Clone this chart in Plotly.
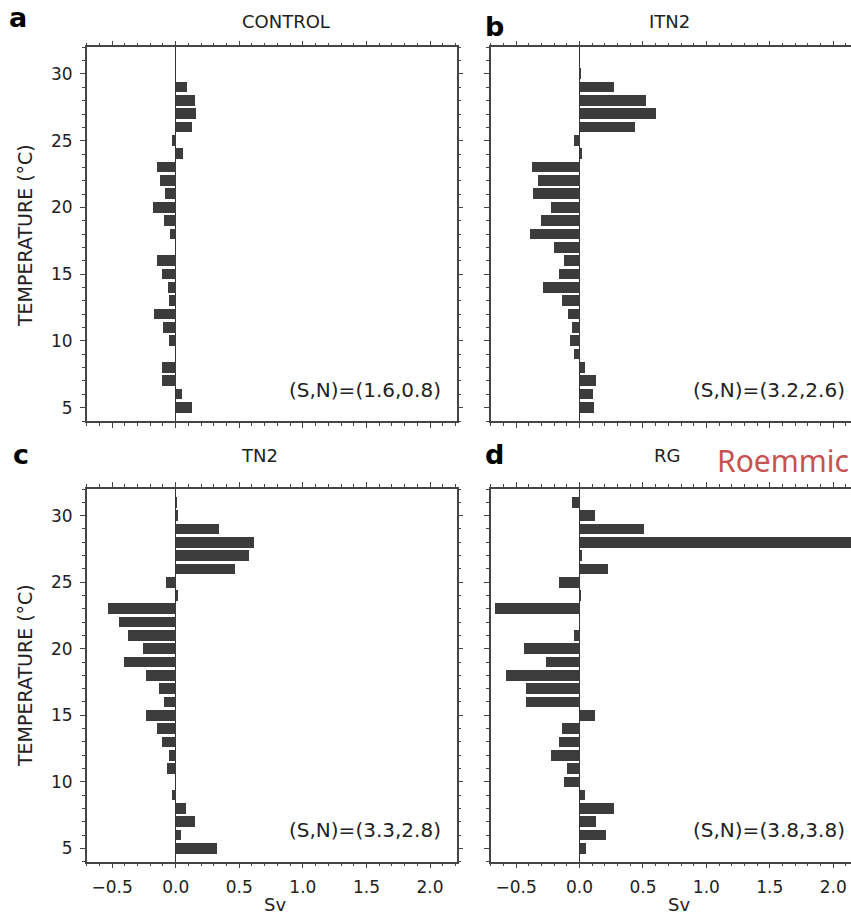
import plotly.graph_objects as go
from plotly.subplots import make_subplots

W, H = 851, 915

temps = list(range(5, 32))

# transport (Sv) per 1 degC temperature class, 5..31 degC
control = [0.126, 0.047, -0.108, -0.108, 0.0, -0.052, -0.100, -0.171, -0.052, -0.060,
           -0.108, -0.147, 0.0, -0.045, -0.092, -0.178, -0.084, -0.123, -0.147, 0.055,
           -0.029, 0.126, 0.160, 0.152, 0.087, 0.0, 0.0]
itn2 = [0.110, 0.102, 0.126, 0.039, -0.047, -0.079, -0.063, -0.094, -0.142, -0.291,
        -0.165, -0.126, -0.205, -0.394, -0.307, -0.228, -0.370, -0.331, -0.378, 0.021,
        -0.045, 0.433, 0.604, 0.525, 0.273, 0.005, 0.0]
tn2 = [0.323, 0.039, 0.150, 0.079, -0.034, 0.0, -0.073, -0.058, -0.113, -0.152,
       -0.239, -0.097, -0.136, -0.239, -0.412, -0.262, -0.381, -0.451, -0.538, 0.016,
       -0.076, 0.465, 0.575, 0.614, 0.339, 0.015, 0.005]
rg = [0.047, 0.205, 0.126, 0.268, 0.039, -0.126, -0.102, -0.228, -0.165, -0.142,
      0.118, -0.425, -0.425, -0.583, -0.268, -0.441, -0.047, -0.003, -0.669, 0.003,
      -0.165, 0.220, 0.021, 2.45, 0.504, 0.118, -0.063]

x_tickvals = [-0.5, 0.0, 0.5, 1.0, 1.5, 2.0]
x_ticktext = ["\u22120.5", "0.0", "0.5", "1.0", "1.5", "2.0"]

panels = [("a", "CONTROL", control, "(S,N)=(1.6,0.8)"),
          ("b", "ITN2", itn2, "(S,N)=(3.2,2.6)"),
          ("c", "TN2", tn2, "(S,N)=(3.3,2.8)"),
          ("d", "RG", rg, "(S,N)=(3.8,3.8)")]

FONT = "DejaVu Sans"
TXT = "#222"
AX = "#454545"
BAR = "#3c3c3c"


def px(x):
    return x / W


def py(y):
    return 1 - y / H


fig = make_subplots(rows=2, cols=2)

for i, (letter, name, vals, sn) in enumerate(panels):
    r, c = i // 2 + 1, i % 2 + 1
    fig.add_trace(go.Bar(x=vals, y=temps, orientation="h", width=0.8,
                         marker=dict(color=BAR, line=dict(width=0)),
                         showlegend=False, hoverinfo="skip"), row=r, col=c)

xdom = {1: [px(86.7), px(456.7)], 2: [px(490.7), 1.0]}
ydom = {1: [py(421), py(47.3)], 2: [py(861.7), py(489)]}
xrng = {1: [-0.7, 2.21], 2: [-0.7, 2.14]}

for i in range(4):
    r, c = i // 2 + 1, i % 2 + 1
    fig.update_xaxes(domain=xdom[c], range=xrng[c], row=r, col=c,
                     showgrid=False, zeroline=True, zerolinecolor="#333",
                     zerolinewidth=1.2, showline=True, linecolor=AX, linewidth=1.5,
                     mirror="ticks", ticks="outside", ticklen=5, tickwidth=1.2,
                     tickcolor=AX, tickmode="array", tickvals=x_tickvals,
                     ticktext=x_ticktext,
                     showticklabels=(r == 2), ticklabelstandoff=4,
                     tickfont=dict(family=FONT, size=17, color=TXT),
                     minor=dict(ticks="outside", ticklen=3, tickwidth=1.2,
                                tickcolor=AX, tickmode="linear", tick0=0,
                                dtick=0.1, showgrid=False))
    fig.update_yaxes(domain=ydom[r], range=[4, 32], row=r, col=c,
                     showgrid=False, zeroline=False, showline=True,
                     linecolor=AX, linewidth=1.5,
                     mirror="ticks" if c == 1 else False,
                     ticks="outside", ticklen=5, tickwidth=1.2, tickcolor=AX,
                     tick0=0, dtick=5, showticklabels=(c == 1), ticklabelstandoff=4,
                     tickfont=dict(family=FONT, size=17, color=TXT),
                     minor=dict(ticks="outside", ticklen=3, tickwidth=1.2,
                                tickcolor=AX, dtick=1, showgrid=False))

ann = []


def text(x, y, s, size, xanchor="center", color=TXT, bold=False, angle=0, family=FONT):
    if bold:
        s = "<b>" + s + "</b>"
    ann.append(dict(x=px(x), y=py(y), xref="paper", yref="paper", text=s,
                    showarrow=False, xanchor=xanchor, yanchor="middle",
                    textangle=angle, font=dict(family=family, size=size, color=color)))


# panel letters
text(18, 18, "a", 27, bold=True, color="#000")
text(494, 27, "b", 27, bold=True, color="#000")
text(21, 454, "c", 27, bold=True, color="#000")
text(494, 454, "d", 27, bold=True, color="#000")

# panel titles
text(286, 21, "CONTROL", 18)
text(669, 21, "ITN2", 18)
text(259, 455, "TN2", 18)
text(667, 455, "RG", 18)

# (S,N) labels
text(443, 390, panels[0][3], 20, xanchor="right")
text(847, 390, panels[1][3], 20, xanchor="right")
text(443, 830, panels[2][3], 20, xanchor="right")
text(847, 830, panels[3][3], 20, xanchor="right")

# axis titles
text(25, 236, "TEMPERATURE (°C)", 19, angle=-90)
text(25, 676, "TEMPERATURE (°C)", 19, angle=-90)
text(275, 904, "Sv", 18)
text(679, 904, "Sv", 18)

# red label at the top right edge (cut in the source)
ann.append(dict(x=1.0, y=py(460), xref="paper", yref="paper", text="Roemmic",
                showarrow=False, xanchor="right", yanchor="middle",
                font=dict(family="Noto Sans", size=30, color="#c75252")))

fig.update_layout(width=W, height=H, autosize=False,
                  margin=dict(l=0, r=0, t=0, b=0),
                  paper_bgcolor="white", plot_bgcolor="white",
                  bargap=0, annotations=ann)

fig.write_html("out.html", config={"displayModeBar": False},
               post_script="document.body.style.margin='0px';")
